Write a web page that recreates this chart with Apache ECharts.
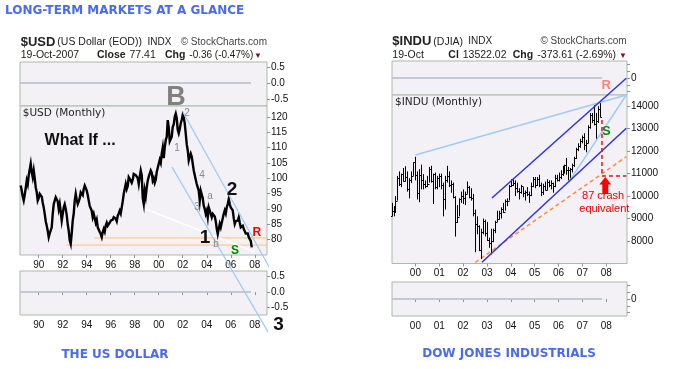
<!DOCTYPE html>
<html><head><meta charset="utf-8">
<script src="https://cdn.jsdelivr.net/npm/echarts@6/dist/echarts.min.js"></script>
<style>html,body{margin:0;padding:0;background:#fff}#c{width:673px;height:369px}</style>
</head><body><div id="c"></div>
<script>
// ---------------- DATA ----------------
const usdStart = [1988, 6]; // first month: July 1988
const usdClose = [
  97.6, 96, 94, 92.7, 94.5, 96.8,
  99.2, 98, 101, 100.5, 104.7, 102, 100.3, 102.5, 100, 97, 95.5, 92.7,
  93.5, 94.9, 95.5, 94, 92, 90.5, 88.4, 86, 84.5, 82.9, 80.8, 82,
  81.5, 84, 88.4, 91.5, 92.7, 93.8, 94.3, 92.5, 90, 91.6, 89, 86.2,
  88.4, 90.5, 91.5, 90, 88, 85, 82.9, 79.8, 78.6, 82, 86.2, 88.5,
  92.7, 94.9, 93, 91.6, 92.5, 93.5, 95.4, 96, 94.5, 96.5, 97.6, 96.8,
  96, 94.5, 92.7, 91, 90.5, 89.4, 87.3, 88.4, 87, 85.5, 86.5, 84,
  83.5, 82.5, 81.8, 80.8, 82.5, 83.5, 82.6, 84.6, 85.5, 84.5, 84.2, 85.5,
  86.2, 85.8, 86.5, 87.3, 87.5, 86.8, 86, 87.8, 88.5, 89.4, 88.5, 90.5,
  92.5, 94.9, 95.5, 98.1, 96.5, 97.5, 100.3, 100.8, 99.2, 98.5, 99.5, 101.4,
  102, 101, 101.6, 100, 98.1, 100.5, 102.5, 101, 93.5, 91.6, 95.9, 94,
  97, 99.2, 100.5, 101.5, 102.5, 101.8, 99.2, 100, 98.5, 99.5, 102, 101.5,
  104.7, 106, 105, 108, 110, 106.5, 110, 112.4, 113.5, 118.9, 116.5, 112,
  112.4, 113.5, 116.7, 117.5, 120, 121, 119.5, 115.7, 114.6, 116, 117.8, 119,
  120.6, 119.8, 117.8, 114.5, 111, 109.1, 105.8, 107, 108, 107, 104.7, 102.5,
  101, 99.5, 98.1, 97, 95.9, 92.7, 95.9, 96.5, 93.5, 91, 90, 88.4,
  89.4, 87.3, 90.5, 91, 88.4, 87.3, 88.4, 89, 87.5, 86, 83.5, 81.8,
  83.5, 85.1, 84, 85.5, 87, 88.4, 89.5, 88.5, 90.5, 91.6, 93.2, 91.5,
  90.5, 91, 89.5, 87, 85.1, 86, 85.5, 86.2, 87.3, 85.5, 84, 83.5,
  84.5, 83.5, 82.9, 82, 82.3, 82, 80.8, 81.2, 79.6, 77.5
];
const usdXTicks = [1990, 1992, 1994, 1996, 1998, 2000, 2002, 2004, 2006, 2008];
const usdYTicks = [80, 85, 90, 95, 100, 105, 110, 115, 120];
const indTicks = [-0.5, 0, 0.5];

const djiaStart = [1999, 0]; // January 1999
const djiaHigh = [
  9700, 9560, 10000, 10900, 11100, 11000, 11250, 11330, 11100, 10800, 11100, 11500,
  11750, 11100, 11200, 11400, 10980, 10700, 10900, 11300, 11350, 11000, 11050, 10900,
  11000, 11000, 10600, 10900, 11350, 11100, 10700, 10600, 10000, 9600, 9900, 10200,
  10300, 10200, 10650, 10450, 10350, 10100, 9400, 9100, 8700, 8550, 9000, 8950,
  8850, 8150, 8550, 8550, 8900, 9350, 9350, 9500, 9700, 9850, 9900, 10500,
  10750, 10750, 10700, 10600, 10350, 10500, 10400, 10250, 10400, 10200, 10600, 10850,
  10850, 10850, 10950, 10600, 10550, 10650, 10750, 10700, 10700, 10600, 10950, 10950,
  11050, 11150, 11350, 11400, 11700, 11300, 11250, 11450, 11750, 12150, 12350, 12550,
  12700, 12800, 12500, 13150, 13700, 13700, 14050, 13700, 14000, 14200
];
const djiaLow = [
  9100, 9100, 9270, 9800, 10450, 10400, 10650, 10650, 10200, 9900, 10580, 10900,
  10700, 9850, 9730, 10300, 10300, 10350, 10400, 10600, 10600, 9650, 10300, 10300,
  10400, 10300, 9100, 9400, 10600, 10400, 10150, 9900, 8200, 8800, 9100, 9700,
  9650, 9600, 10100, 9900, 9800, 9100, 7500, 8300, 7550, 7200, 8300, 8200,
  8000, 7700, 7400, 7950, 8350, 8850, 8950, 9000, 9250, 9350, 9550, 9800,
  10400, 10450, 10000, 10150, 9850, 10100, 9950, 9800, 10000, 9700, 10000, 10400,
  10350, 10450, 10400, 10000, 10050, 10250, 10250, 10400, 10300, 10150, 10400, 10650,
  10650, 10750, 10900, 11000, 10950, 10700, 10700, 11050, 11300, 11650, 12000, 12150,
  12350, 12050, 11950, 12350, 13000, 13250, 13150, 12500, 13250, 13500
];
const djiaClose = [
  9359, 9307, 9786, 10789, 10560, 10971, 10655, 10829, 10337, 10729, 10878, 11497,
  10941, 10128, 10922, 10734, 10522, 10448, 10522, 11215, 10651, 10971, 10415, 10787,
  10887, 10495, 9879, 10735, 10912, 10502, 10523, 9950, 8848, 9075, 9852, 10022,
  9920, 10106, 10404, 9946, 9925, 9243, 8737, 8664, 7592, 8397, 8896, 8342,
  8054, 7891, 7992, 8480, 8850, 8985, 9234, 9416, 9275, 9801, 9782, 10454,
  10488, 10584, 10358, 10226, 10188, 10435, 10140, 10174, 10080, 10027, 10428, 10783,
  10490, 10766, 10504, 10193, 10467, 10275, 10641, 10482, 10569, 10440, 10806, 10718,
  10865, 10993, 11109, 11367, 11168, 11150, 11186, 11381, 11679, 12081, 12221, 12463,
  12622, 12269, 12354, 13063, 13628, 13409, 13212, 13358, 13896, 13522
];
const djiaXTicks = [2000, 2001, 2002, 2003, 2004, 2005, 2006, 2007, 2008];
const djiaYTicks = [8000, 9000, 10000, 11000, 12000, 13000, 14000];

// annotation lines [[x,y],[x,y]] in data units
const usdChanUpper = [[2002.02, 121.5], [2009.52, 68.8]];
const usdChanLower = [[2001.11, 103.6], [2009.11, 49.9]];
const usdWhite = [[1998.69, 90.3], [2008.02, 76.0]];
const usdSupport1 = [[1994.61, 80.6], [2009.02, 80.6]];
const usdSupport2 = [[1992.30, 78.2], [2009.02, 78.2]];
const usdZeroTop = [[1988.44, 0], [2007.69, 0]];
const usdZeroBottom = [[1988.44, 0], [2007.69, 0]];

const djiaFan1 = [[2000.0, 11830], [2008.84, 14500]];
const djiaFan2 = [[2006.49, 10720], [2008.84, 14500]];
const djiaChanUpper = [[2003.21, 9915], [2008.84, 15243]];
const djiaChanLower = [[2002.79, 7053], [2008.84, 13018]];
const djiaOrange = [[2002.51, 7053], [2008.84, 11754]];
const djiaCrashV = [[2007.82, 13390], [2007.82, 10900]];
const djiaCrashH = [[2007.82, 10900], [2008.84, 10900]];
const djiaZeroTop = [[1999.02, 0], [2007.83, 0]];
const djiaZeroBottom = [[1999.02, 0], [2007.83, 0]];

// annotation texts: [x, y, text] in data units
const usdNotesBig = [[2001.44, 126.3, 'B'], [1993.45, 112.1, 'What If ...'], [2006.11, 96.3, '2'], [2003.85, 80.7, '1'], [2009.98, 52.2, '3']];
const usdNotesRS = [[2008.17, 82.2, 'R'], [2006.36, 76.5, 'S']];
const usdNotesWave = [[2002.36, 121.0, '2'], [2001.53, 109.8, '1'], [2003.61, 101.0, '4'], [2004.27, 94.1, 'a'], [2003.19, 90.5, '3'], [2004.77, 78.6, 'b']];
const djiaNotesRS = [[2008.0, 14914, 'R'], [2008.0, 12866, 'S']];
const djiaNotesCrash = [[2007.87, 10000, '87 crash'], [2007.92, 9430, 'equivalent']];
const djiaArrow = [[2007.96, 10470]];

// ---------------- CHART ----------------
const chart = echarts.init(document.getElementById('c'), null, {renderer: 'canvas'});
const usdData = usdClose.map((v, i) => [usdStart[0] + (usdStart[1] + i) / 12, v]);
const djiaData = djiaClose.map((c, i) => [
  djiaStart[0] + (djiaStart[1] + i) / 12, djiaHigh[i], djiaLow[i], c, i > 0 ? djiaClose[i - 1] : djiaLow[i]
]);

const BORDER = '#a9baa9', BG = '#f3f1f5';
const AX = 'Liberation Sans, Arial, sans-serif';
const grids = [
  {left: 20, top: 62, width: 247, height: 44},
  {left: 20, top: 106, width: 247, height: 149},
  {left: 20, top: 271, width: 247, height: 44},
  {left: 392, top: 61, width: 235, height: 34},
  {left: 392, top: 95, width: 235, height: 168.5},
  {left: 392, top: 282, width: 235, height: 34}
].map(g => Object.assign({show: true, backgroundColor: BG, borderColor: BORDER, borderWidth: 1}, g));

const yr = v => String(Math.round(v) % 100).padStart(2, '0');
function xAx(gi, min, max, ticks, labels) {
  return {
    type: 'value', gridIndex: gi, min: min, max: max, splitLine: {show: false},
    axisLine: {show: false},
    axisTick: {show: !!labels, length: 3, customValues: ticks, lineStyle: {color: '#8a9a8a'}},
    axisLabel: {show: !!labels, customValues: ticks, formatter: yr, fontSize: 10, fontFamily: AX, color: '#111', margin: 5}
  };
}
function yAx(gi, min, max, ticks, fmt, tickVals) {
  return {
    type: 'value', gridIndex: gi, position: 'right', min: min, max: max, splitLine: {show: false},
    axisLine: {show: false},
    axisTick: {show: true, length: 3, customValues: tickVals || ticks, lineStyle: {color: '#8a9a8a'}},
    axisLabel: {customValues: ticks, formatter: fmt, fontSize: 10, fontFamily: AX, color: '#111', margin: 4}
  };
}
const f1 = v => v.toFixed(1);
const f0 = v => String(v);

function seg(pts, xi, color, width, type, z) {
  return {type: 'line', xAxisIndex: xi, yAxisIndex: xi, data: pts, symbol: 'none', clip: false, silent: true,
    lineStyle: {color: color, width: width, type: type || 'solid'}, z: z || 3, animation: false};
}

const option = {
  animation: false,
  grid: grids,
  xAxis: [
    xAx(0, 1988.44, 2009.02, usdXTicks, false),
    xAx(1, 1988.44, 2009.02, usdXTicks, true),
    xAx(2, 1988.44, 2009.02, usdXTicks, true),
    xAx(3, 1999.02, 2008.87, djiaXTicks, false),
    xAx(4, 1999.02, 2008.87, djiaXTicks, true),
    xAx(5, 1999.02, 2008.87, djiaXTicks, true)
  ],
  yAxis: [
    yAx(0, -0.72, 0.66, indTicks, f1),
    yAx(1, 75, 123.5, usdYTicks, f0),
    yAx(2, -0.74, 0.68, indTicks, f1),
    yAx(3, -1, 1, [0], f0, [-0.8, -0.4, 0, 0.4, 0.8]),
    yAx(4, 7000, 14500, djiaYTicks, f0),
    yAx(5, -1, 1, [0], f0, [-0.8, -0.4, 0, 0.4, 0.8])
  ],
  series: [
    seg(usdZeroTop, 0, '#b3bccd', 1.6),
    seg(usdZeroBottom, 2, '#b3bccd', 1.6),
    seg(usdSupport1, 1, '#ffc890', 1.2, 'solid', 2),
    seg(usdSupport2, 1, '#ffc890', 1.2, 'solid', 2),
    seg(usdWhite, 1, '#ffffff', 1.5, 'solid', 2),
    {type: 'line', xAxisIndex: 1, yAxisIndex: 1, data: usdData, symbol: 'none', silent: true, z: 4,
      lineStyle: {color: '#000', width: 2.4, join: 'miter'}, animation: false},
    seg(usdChanUpper, 1, '#9fcbf5', 1.2, 'solid', 5),
    seg(usdChanLower, 1, '#9fcbf5', 1.2, 'solid', 5),
    seg(djiaZeroTop, 3, '#b3bccd', 1.6),
    seg(djiaZeroBottom, 5, '#b3bccd', 1.6),
    seg(djiaOrange, 4, '#ff8a40', 1.5, [4, 3], 2),
    {type: 'custom', xAxisIndex: 4, yAxisIndex: 4, data: djiaData, silent: true, z: 4, animation: false,
      renderItem: function (params, api) {
        const x = api.value(0);
        const pH = api.coord([x, api.value(1)]), pL = api.coord([x, api.value(2)]);
        const pC = api.coord([x, api.value(3)]), pO = api.coord([x, api.value(4)]);
        const px = Math.round(pH[0]) + 0.5;
        const st = {stroke: '#000', lineWidth: 1};
        return {type: 'group', children: [
          {type: 'line', shape: {x1: px, y1: pH[1], x2: px, y2: pL[1]}, style: st},
          {type: 'line', shape: {x1: px - 1.5, y1: Math.round(pO[1]) + 0.5, x2: px, y2: Math.round(pO[1]) + 0.5}, style: st},
          {type: 'line', shape: {x1: px, y1: Math.round(pC[1]) + 0.5, x2: px + 1.5, y2: Math.round(pC[1]) + 0.5}, style: st}
        ]};
      }},
    seg(djiaFan1, 4, '#9fcbf5', 1.5, 'solid', 5),
    seg(djiaFan2, 4, '#9fcbf5', 1.5, 'solid', 5),
    seg(djiaChanUpper, 4, '#3030e8', 1.5, 'solid', 5),
    seg(djiaChanLower, 4, '#3030e8', 1.5, 'solid', 5),
    seg(djiaCrashV, 4, '#ee1111', 1.5, [4, 3], 5),
    seg(djiaCrashH, 4, '#ee1111', 1.5, [4, 3], 5),
    {type: 'scatter', xAxisIndex: 4, yAxisIndex: 4, silent: true, z: 6, animation: false, clip: false,
      symbol: 'path://M6,0L12,7.5L9,7.5L9,17L3,17L3,7.5L0,7.5Z', symbolSize: [12, 17],
      itemStyle: {color: '#ff0000', opacity: 1}, data: djiaArrow}
  ]
};

function T(text, x, y, size, bold, fill, align, family) {
  return {type: 'text', x: x, y: y, silent: true, z: 100,
    style: {text: text, fill: fill || '#222', align: align || 'left', verticalAlign: 'middle',
      font: (bold ? 'bold ' : '') + size + 'px ' + (family || '"Liberation Sans", Arial, sans-serif')}};
}
const BLUE = '#4a6af0', DJ = '"DejaVu Sans", Verdana, sans-serif';
const headerTexts = [
  T('LONG-TERM MARKETS AT A GLANCE', 5, 10.5, 12, true, BLUE, 'left', DJ),
  T('THE US DOLLAR', 115, 354.5, 12, true, BLUE, 'center', DJ),
  T('DOW JONES INDUSTRIALS', 509, 353.5, 12, true, BLUE, 'center', DJ),
  // left header
  T('$USD', 20.7, 42.5, 13, true, '#222'),
  T('(US Dollar (EOD))', 57.3, 42.5, 10.5, false, '#222'),
  T('INDX', 147.5, 42.5, 10, false, '#222'),
  T('\u00a9 StockCharts.com', 267, 42.5, 10, false, '#444', 'right'),
  T('19-Oct-2007', 20.7, 55.5, 10.5, false, '#222'),
  T('Close', 97, 55.5, 10.5, true, '#222'),
  T('77.41', 129.5, 55.5, 10.5, false, '#222'),
  T('Chg', 165, 55.5, 10.5, true, '#222'),
  T('-0.36 (-0.47%)', 189.3, 55.5, 10, false, '#222'),
  T('\u25bc', 254, 55.5, 8, false, '#990033'),
  T('$USD (Monthly)', 22.7, 113.5, 10.5, false, '#222', 'left', DJ),
  // right header
  T('$INDU', 392.3, 41.7, 13, true, '#222'),
  T('(DJIA)', 433.3, 41.7, 10.5, false, '#222'),
  T('INDX', 468.3, 41.7, 10, false, '#222'),
  T('\u00a9 StockCharts.com', 626.7, 41.7, 10, false, '#444', 'right'),
  T('19-Oct', 392.3, 55.5, 10.5, false, '#222'),
  T('Cl', 448.3, 55.5, 10.5, true, '#222'),
  T('13522.02', 462.7, 55.5, 10.5, false, '#222'),
  T('Chg', 512.7, 55.5, 10.5, true, '#222'),
  T('-373.61 (-2.69%)', 537.3, 55.5, 10.5, false, '#222'),
  T('\u25bc', 619, 55.5, 8, false, '#990033'),
  T('$INDU (Monthly)', 395, 102.5, 10.5, false, '#222', 'left', DJ)
];
chart.setOption(option);

// place annotation texts through the axes' own scales
function place(gridIndex, list, styles) {
  return list.map((it, i) => {
    const p = chart.convertToPixel({gridIndex: gridIndex}, [it[0], it[1]]);
    const s = styles[Math.min(i, styles.length - 1)];
    return T(it[2], p[0], p[1], s[0], s[1], s[2], 'center');
  });
}
const noteTexts = [].concat(
  place(1, usdNotesBig, [[27, true, '#808080'], [16, true, '#111'], [19, true, '#111']]),
  place(1, usdNotesRS, [[12, true, '#ff0000'], [12, true, '#008800']]),
  place(1, usdNotesWave, [[10, false, '#8a8a8a']]),
  place(4, djiaNotesRS, [[13, true, '#ff8080'], [13, true, '#0a8a0a']]),
  place(4, djiaNotesCrash, [[11, false, '#ee0000']])
);
chart.setOption({graphic: headerTexts.concat(noteTexts)});
</script></body></html>
